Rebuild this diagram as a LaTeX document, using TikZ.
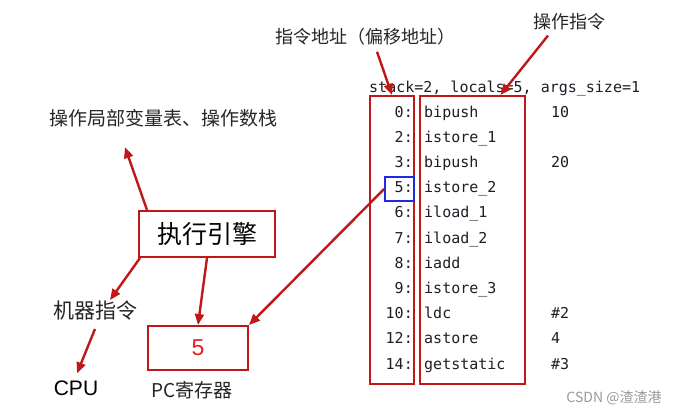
\documentclass[tikz,border=0pt]{standalone}
\usepackage{fontspec}
\setmainfont{Liberation Sans}
\setmonofont{DejaVu Sans Mono}
\newfontfamily\cjk{Noto Sans CJK SC}
\usetikzlibrary{arrows.meta,calc}
\definecolor{dred}{RGB}{192,24,24}
\definecolor{bblue}{RGB}{30,40,230}
\definecolor{codec}{RGB}{30,30,40}
\begin{document}
\begin{tikzpicture}[x=1pt,y=-1pt,
  redbox/.style={draw=dred,line width=2pt,inner sep=0pt},
  arr/.style={draw=dred,line width=2.4pt,-{Triangle[length=11pt,width=9pt]}},
  lbl/.style={inner sep=0pt,text=black!85},
  code/.style={inner sep=0pt,font=\ttfamily\fontsize{15}{15}\selectfont,text=codec,text height=11pt,text depth=3pt},
]
\useasboundingbox[fill=white] (0,0) rectangle (680,415);

% code listing boxes
\node[redbox,minimum width=44pt,minimum height=288pt] (addr) at (392,240) {};
\node[redbox,minimum width=105pt,minimum height=288pt] (ops) at (472.5,240) {};
\node[draw=bblue,line width=1.8pt,inner sep=0pt,minimum width=29pt,minimum height=24pt] (cur) at (399.5,189) {};

% header
\node[code,anchor=west] (hdr) at (369,88) {stack=2, locals=5, args\_size=1};

% code rows
\foreach \a/\i/\o [count=\k from 0] in {0/bipush/10,2/istore\_1/,3/bipush/20,5/istore\_2/,6/iload\_1/,7/iload\_2/,8/iadd/,9/istore\_3/,10/ldc/\#2,12/astore/4,14/getstatic/\#3}{
  \node[code,anchor=east] (n\k) at (413,113+25.2*\k) {\a:};
  \node[code,anchor=west] (i\k) at (424,113+25.2*\k) {\i};
  \node[code,anchor=west] (o\k) at (551,113+25.2*\k) {\o};
}

% labels at top
\node[lbl,font=\cjk\fontsize{18}{18}\selectfont] (lblAddr) at (365,37) {指令地址（偏移地址）};
\node[lbl,font=\cjk\fontsize{18}{18}\selectfont] (lblOps) at (569,22) {操作指令};
\draw[arr] ($(lblAddr.south)+(12,6)$) -- (addr.north);
\draw[arr] ($(lblOps.south)+(-21,5)$) -- ($(ops.north)+(28,0)$);

% left side
\node[lbl,font=\cjk\fontsize{19}{19}\selectfont] (lv) at (163,118) {操作局部变量表、操作数栈};
\node[redbox,minimum width=136pt,minimum height=46pt,font=\cjk\fontsize{25}{25}\selectfont] (engine) at (207,234) {执行引擎};
\node[lbl,font=\cjk\fontsize{21}{21}\selectfont] (mi) at (95,311) {机器指令};
\node[lbl,font=\fontsize{21}{21}\selectfont,text=black] (cpu) at (76,388) {CPU};
\node[redbox,minimum width=100pt,minimum height=44pt,font=\fontsize{23}{23}\selectfont,text={rgb,255:red,230;green,30;blue,30}] (pc) at (198,348) {5};
\node[lbl,font=\cjk\fontsize{19}{19}\selectfont] (pclbl) at (192,390) {PC寄存器};

\draw[arr] ($(engine.north west)+(9,0)$) -- ($(lv.south)+(-38,20)$);
\draw[arr] ($(engine.south west)+(2,0)$) -- ($(mi.north)+(15,-1)$);
\draw[arr] (engine.south) -- (pc.north);
\draw[arr] (cur.west) -- (pc.north east);
\draw[arr] ($(mi.south)+(0,8)$) -- ($(cpu.north)+(1,-7)$);

% watermark
\node[lbl,font=\cjk\fontsize{14}{14}\selectfont,text=black!40] (wm) at (614,398) {CSDN @渣渣港};
\end{tikzpicture}
\end{document}
